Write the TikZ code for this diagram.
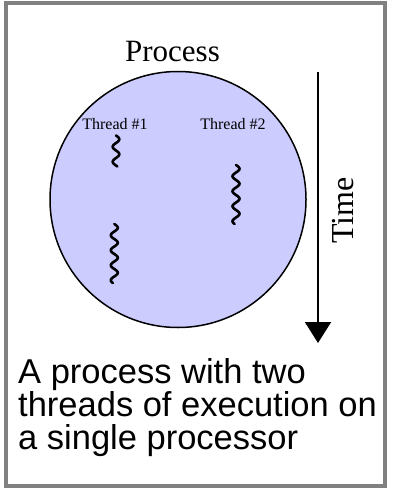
\documentclass[tikz,border=0pt]{standalone}
\usepackage{fontspec}
\setmainfont{Liberation Serif}
\newfontfamily\capfont{Liberation Sans}
\usetikzlibrary{arrows.meta}
\definecolor{procfill}{RGB}{204,204,255}
\definecolor{framegray}{RGB}{128,128,128}
\tikzset{
  squig/.style={line width=2.6pt, line cap=round, line join=round},
  caption/.style={font=\capfont\fontsize{34.5}{33}\selectfont, anchor=base west, inner sep=0pt},
  thrlabel/.style={font=\fontsize{16}{18}\selectfont, anchor=base, inner sep=0pt},
}
\begin{document}
\begin{tikzpicture}[x=1pt,y=-1pt]
\useasboundingbox (0,0) rectangle (406,494);
\draw[framegray, line width=4pt] (5.5,3) rectangle (384.5,485.5);
\node[circle, draw=black, fill=procfill, line width=1.5pt, minimum size=256pt, inner sep=0pt] (proc) at (178,199.5) {};
\node[font=\fontsize{31}{34}\selectfont, anchor=base, inner sep=0pt] (ptitle) at (172.5,62) {Process};
\node[thrlabel] (t1) at (115,130) {Thread \#1};
\node[thrlabel] (t2) at (233,130) {Thread \#2};
\draw[squig] plot[domain=0:31, samples=60, smooth] ({116+3.3*sin(\x*24)},{135.5+\x});
\draw[squig] plot[domain=0:59, samples=100, smooth] ({114.3+3.5*sin(\x*24)},{224+\x});
\draw[squig] plot[domain=0:59, samples=100, smooth] ({236+3.5*sin(\x*24)},{165+\x});
\coordinate (tstart) at (318,72);
\coordinate (tend) at (318,343);
\draw[line width=2pt, -{Triangle[width=26pt,length=21pt]}] (tstart) -- (tend);
\node[font=\fontsize{32}{34}\selectfont, rotate=90, anchor=base, inner sep=0pt] (time) at (353,210.5) {Time};
\node[caption] (c1) at (18,383) {A process with two};
\node[caption] (c2) at (18,416) {threads of execution on};
\node[caption] (c3) at (18,449) {a single processor};
\end{tikzpicture}
\end{document}
